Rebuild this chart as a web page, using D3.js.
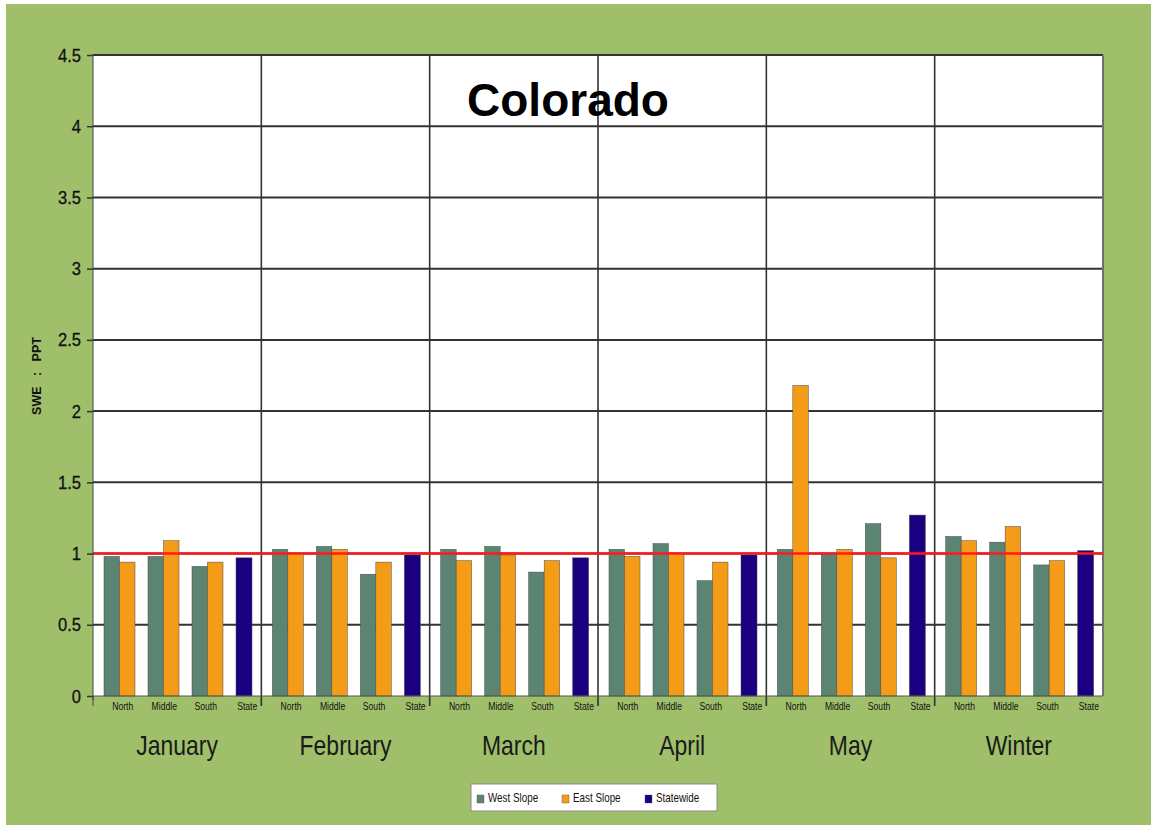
<!DOCTYPE html>
<html>
<head>
<meta charset="utf-8">
<script src="https://cdn.jsdelivr.net/npm/d3@7"></script>
<style>
  html, body { margin: 0; padding: 0; background: #ffffff; }
  svg { display: block; }
</style>
</head>
<body>
<svg id="chart" width="1151" height="825"></svg>
<script>
// Ratio of snow water equivalent to precipitation, Colorado basins
const periods = ["January", "February", "March", "April", "May", "Winter"];
const regions = ["North", "Middle", "South", "State"];
const seriesNames = ["West Slope", "East Slope", "Statewide"];

// North, Middle, South values per period
const westSlope = [
  [0.98, 0.98, 0.91],
  [1.03, 1.05, 0.855],
  [1.03, 1.05, 0.87],
  [1.03, 1.07, 0.81],
  [1.03, 1.00, 1.21],
  [1.12, 1.08, 0.92]
];
const eastSlope = [
  [0.94, 1.09, 0.94],
  [1.00, 1.03, 0.94],
  [0.95, 0.99, 0.95],
  [0.98, 1.00, 0.94],
  [2.18, 1.03, 0.97],
  [1.09, 1.19, 0.95]
];
// State value per period
const statewide = [0.97, 0.99, 0.97, 0.99, 1.27, 1.02];

const yTicks = [0, 0.5, 1, 1.5, 2, 2.5, 3, 3.5, 4, 4.5];
const referenceLevel = 1;

const colors = { "West Slope": "#5b8472", "East Slope": "#f49c17", "Statewide": "#1b0082" };
const sans = "'Liberation Sans', Arial, sans-serif";
const squeeze = 0.82; // horizontal compression for the narrow label face

const svg = d3.select("#chart");
const W = 1151, H = 825;
const plot = { left: 93, right: 1103, top: 55, bottom: 696 };

// narrow text: Liberation Sans compressed horizontally around its anchor
function narrowText(sel, x, y, k = squeeze) {
  return sel.attr("transform", (d, i) => `translate(${x(d, i)},${y(d, i)}) scale(${k},1)`)
    .attr("font-family", sans);
}

// page background
svg.append("rect").attr("x", 0).attr("y", 0).attr("width", W).attr("height", H).attr("fill", "#ffffff");
svg.append("rect").attr("x", 6).attr("y", 4).attr("width", W - 6).attr("height", H - 4).attr("fill", "#a0bf6b");

// scales
const x0 = d3.scaleBand().domain(periods).range([plot.left, plot.right]).padding(0);
const xr = d3.scaleBand().domain(regions).range([11, 187]).padding(0);
const xs = d3.scaleBand().domain(["West Slope", "East Slope"]).range([0, 31]).padding(0);
const xl = d3.scaleBand().domain(regions).range([9, 175]).padding(0);
const y = d3.scaleLinear().domain([0, 4.5]).range([plot.bottom, plot.top]);

// plot area
svg.append("rect")
  .attr("x", plot.left).attr("y", plot.top)
  .attr("width", plot.right - plot.left).attr("height", plot.bottom - plot.top)
  .attr("fill", "#ffffff");

// horizontal gridlines
svg.append("g").selectAll("line")
  .data(yTicks.filter(d => d > 0))
  .join("line")
  .attr("x1", plot.left).attr("x2", plot.right)
  .attr("y1", d => y(d)).attr("y2", d => y(d))
  .attr("stroke", "#333333").attr("stroke-width", 2);

// period separators
svg.append("g").selectAll("line")
  .data(periods.slice(1))
  .join("line")
  .attr("x1", d => x0(d)).attr("x2", d => x0(d))
  .attr("y1", plot.top).attr("y2", plot.bottom + 10)
  .attr("stroke", "#333333").attr("stroke-width", 1.6);

// right frame edge
svg.append("line")
  .attr("x1", plot.right).attr("x2", plot.right)
  .attr("y1", plot.top).attr("y2", plot.bottom)
  .attr("stroke", "#6f6f6f").attr("stroke-width", 2);

// bars
const barData = [];
periods.forEach((p, i) => {
  regions.slice(0, 3).forEach((r, j) => {
    barData.push({ period: p, region: r, series: "West Slope", value: westSlope[i][j] });
    barData.push({ period: p, region: r, series: "East Slope", value: eastSlope[i][j] });
  });
  barData.push({ period: p, region: "State", series: "Statewide", value: statewide[i] });
});

svg.append("g").selectAll("rect")
  .data(barData)
  .join("rect")
  .attr("x", d => x0(d.period) + xr(d.region) + (d.series === "Statewide" ? 0 : xs(d.series)))
  .attr("width", d => d.series === "Statewide" ? 16 : xs.bandwidth())
  .attr("y", d => y(d.value))
  .attr("height", d => y(0) - y(d.value))
  .attr("fill", d => colors[d.series])
  .attr("stroke", "#4a4a4a").attr("stroke-width", 0.5);

// reference line at ratio 1
svg.append("line")
  .attr("x1", plot.left).attr("x2", plot.right)
  .attr("y1", y(referenceLevel)).attr("y2", y(referenceLevel))
  .attr("stroke", "#ff1a1a").attr("stroke-width", 2.5);

// left axis
svg.append("line")
  .attr("x1", plot.left).attr("x2", plot.left)
  .attr("y1", plot.top).attr("y2", plot.bottom + 4)
  .attr("stroke", "#444444").attr("stroke-width", 1);

const yAxis = d3.axisLeft(y).tickValues(yTicks).tickSize(6).tickFormat(d => String(d));
const gy = svg.append("g").attr("transform", `translate(${plot.left},0)`).call(yAxis);
gy.select(".domain").remove();
gy.selectAll(".tick line").attr("stroke", "#333333").attr("stroke-width", 1.5);
gy.selectAll(".tick text").remove();
svg.append("g").selectAll("text")
  .data(yTicks)
  .join("text")
  .call(narrowText, () => 81, d => y(d) + 6.5, 0.92)
  .attr("text-anchor", "end")
  .attr("font-size", 18).attr("fill", "#111111")
  .attr("stroke", "#111111").attr("stroke-width", 0.3)
  .text(d => String(d));

// bottom axis line and first tick
svg.append("line")
  .attr("x1", plot.left).attr("x2", plot.right)
  .attr("y1", plot.bottom).attr("y2", plot.bottom)
  .attr("stroke", "#555555").attr("stroke-width", 1);
svg.append("line")
  .attr("x1", plot.left).attr("x2", plot.left)
  .attr("y1", plot.bottom).attr("y2", plot.bottom + 10)
  .attr("stroke", "#444444").attr("stroke-width", 1);

// region labels
const regionLabels = [];
periods.forEach(p => regions.forEach(r => regionLabels.push({ period: p, region: r })));
svg.append("g").selectAll("text")
  .data(regionLabels)
  .join("text")
  .call(narrowText, d => x0(d.period) + xl(d.region) + xl.bandwidth() / 2, () => plot.bottom + 14)
  .attr("text-anchor", "middle")
  .attr("font-size", 10.5).attr("fill", "#111111")
  .text(d => d.region);

// period labels
svg.append("g").selectAll("text")
  .data(periods)
  .join("text")
  .call(narrowText, d => x0(d) + x0.bandwidth() / 2, () => 755)
  .attr("text-anchor", "middle")
  .attr("font-size", 28).attr("fill", "#1a1a1a")
  .text(d => d);

// title
svg.append("text")
  .attr("x", 568).attr("y", 116)
  .attr("text-anchor", "middle")
  .attr("font-family", sans)
  .attr("font-weight", "bold").attr("font-size", 46)
  .attr("fill", "#000000")
  .text("Colorado");

// y-axis title
svg.append("text")
  .attr("transform", "translate(41,376) rotate(-90)")
  .attr("text-anchor", "middle")
  .attr("font-family", sans)
  .attr("font-weight", "bold").attr("font-size", 12.5)
  .attr("fill", "#111111")
  .style("white-space", "pre")
  .text("SWE   :   PPT");

// legend
const legend = svg.append("g").attr("transform", "translate(471,784)");
legend.append("rect")
  .attr("width", 246).attr("height", 27)
  .attr("fill", "#ffffff").attr("stroke", "#8a8a8a").attr("stroke-width", 1);
const legendX = d3.scalePoint().domain(seriesNames).range([6, 176]);
const item = legend.selectAll("g.item")
  .data(seriesNames)
  .join("g").attr("class", "item")
  .attr("transform", d => `translate(${legendX(d) + (d === "Statewide" ? -2 : 0)},0)`);
item.append("rect")
  .attr("x", 0).attr("y", 11).attr("width", 7).attr("height", 8)
  .attr("fill", d => colors[d]).attr("stroke", "#555555").attr("stroke-width", 0.4);
item.append("text")
  .call(narrowText, () => 11, () => 18)
  .attr("font-size", 12).attr("fill", "#111111")
  .text(d => d);
</script>
</body>
</html>
